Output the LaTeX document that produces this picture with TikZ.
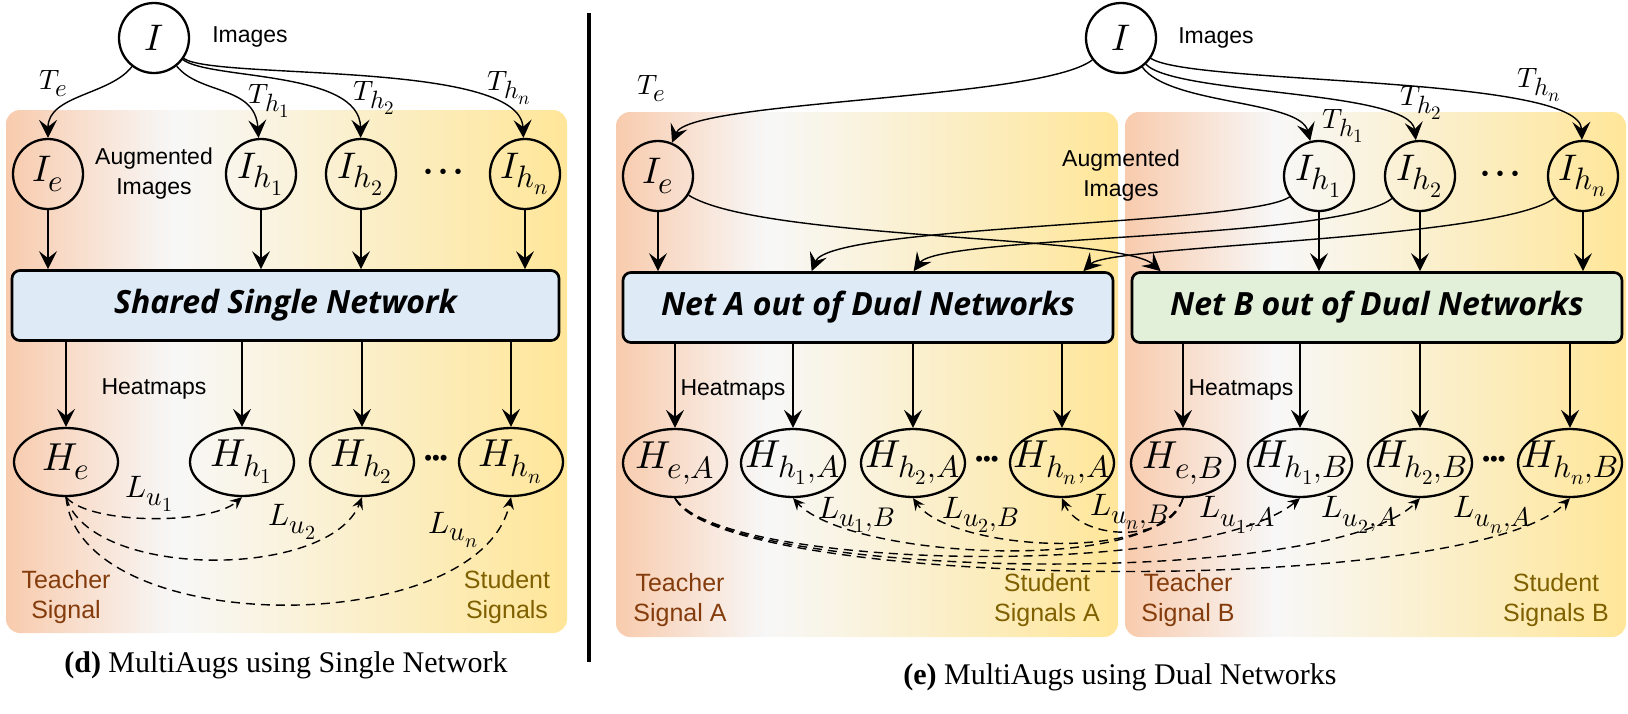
\documentclass[tikz,border=0pt]{standalone}
\usepackage{amsmath}
\usepackage{amssymb}
\usepackage{fontspec}
\usepackage{unicode-math}
\setmainfont{Liberation Serif}
\setsansfont{Liberation Sans}
\setmathfont{latinmodern-math.otf}
\newfontfamily\netfont{Open Sans}
\usetikzlibrary{arrows.meta,shapes.geometric}
\DeclareMathSizes{14}{14}{12.5}{9.5}
\DeclareMathSizes{15.5}{15.5}{13.5}{10}
\DeclareMathSizes{18.5}{18.5}{15.5}{11}
\DeclareMathSizes{19.5}{19.5}{15.5}{10.5}

\definecolor{peach}{HTML}{F8CBAD}
\definecolor{goldbg}{HTML}{FFE699}
\definecolor{netblue}{HTML}{DEEBF7}
\definecolor{netgreen}{HTML}{E2F0D9}
\definecolor{teachc}{HTML}{843C0C}
\definecolor{studc}{HTML}{7F6000}
\pgfdeclarehorizontalshading{panelshade}{100bp}{color(0bp)=(peach); color(25bp)=(peach);
  color(40bp)=(white!97!black); color(75bp)=(goldbg); color(100bp)=(goldbg)}

\begin{document}
\begin{tikzpicture}[x=0.5pt,y=-0.5pt,>={Stealth[length=9pt,width=9pt,inset=3.5pt]},
                    line width=0.7pt,font=\sffamily\fontsize{11.5}{15}\selectfont]
  \tikzstyle{panel}=[rounded corners=7pt,shading=panelshade]
  \tikzstyle{aug}=[circle,draw,line width=1.15pt,minimum size=35pt,inner sep=0pt,
                   font=\fontsize{18.5}{18.5}\selectfont]
  \tikzstyle{heat}=[ellipse,draw,line width=1.15pt,minimum width=52pt,minimum height=34pt,
                    inner xsep=-30pt,inner ysep=0pt,font=\fontsize{19.5}{19.5}\selectfont]
  \tikzstyle{net}=[draw,rounded corners=4pt,line width=1.35pt,minimum height=35pt,
                   font=\netfont\bfseries\itshape\fontsize{16}{16}\selectfont]
  \tikzstyle{loss}=[->,dash pattern=on 4.5pt off 3pt,
                    >={Stealth[length=6pt,width=5.5pt,inset=2.2pt]}]
  \tikzstyle{tlabel}=[font=\fontsize{14}{14}\selectfont]
  \tikzstyle{llabel}=[font=\fontsize{15.5}{15.5}\selectfont]
  \tikzstyle{teach}=[text=teachc,align=center,font=\sffamily\fontsize{12.5}{15}\selectfont]
  \tikzstyle{stud}=[text=studc,align=center,font=\sffamily\fontsize{12.5}{15}\selectfont]
  \tikzstyle{topdots}=[font=\sffamily\fontsize{10}{10}\selectfont]
  \tikzstyle{heatdots}=[font=\sffamily\fontsize{11}{11}\selectfont]
  \tikzstyle{caption}=[font=\rmfamily\fontsize{15}{18}\selectfont]

  \useasboundingbox (0,0) rectangle (1628,713);
  \shade[panel] (6,110) rectangle (567,633);
  \shade[panel] (616,112) rectangle (1118,637);
  \shade[panel] (1125,112) rectangle (1626,637);
  \draw[line width=2.2pt] (589,13) -- (589,662);

  % (d) single network
  \node[aug] (I) at (154,38) {$I$};
  \node (imgL) at (250,37) {Images};
  \node[aug] (Ie) at (48,174) {$I_e$};
  \node[aug] (Ih1) at (261,174) {$I_{h_1}$};
  \node[aug] (Ih2) at (361,174) {$I_{h_2}$};
  \node[topdots] (dotsL) at (443,174) {\textbullet\hspace{4pt}\textbullet\hspace{4pt}\textbullet};
  \node[aug] (Ihn) at (525,174) {$I_{h_n}$};
  \node[align=center] (augL) at (154,174) {Augmented\\Images};
  \node[net,fill=netblue,minimum width=273.5pt] (Net) at (285.5,305.5) {Shared Single Network};
  \node[heat] (He) at (66,462) {$H_e$};
  \node[heat] (Hh1) at (242,462) {$H_{h_1}$};
  \node[heat] (Hh2) at (362,462) {$H_{h_2}$};
  \node[heatdots] (hdotsL) at (436,460) {\textbullet\textbullet\textbullet};
  \node[heat] (Hhn) at (511,462) {$H_{h_n}$};
  \node (hmL) at (154,389) {Heatmaps};
  \node[teach] (tchL) at (66,597) {Teacher\\Signal};
  \node[stud] (stdL) at (507,597) {Student\\Signals};
  \node[caption] (capL) at (286,665) {\textbf{(d)} MultiAugs using Single Network};

  \draw[->] (I) .. controls (110,95) and (48,95) .. (Ie);
  \draw[->] (I) .. controls (200,95) and (255,85) .. (Ih1);
  \draw[->] (I) .. controls (210,80) and (360,70) .. (Ih2);
  \draw[->] (I) .. controls (215,80) and (520,60) .. (Ihn);
  \node[tlabel] (TeL) at (54,84) {$T_e$};
  \node[tlabel] (Th1L) at (270,101) {$T_{h_1}$};
  \node[tlabel] (Th2L) at (375,98) {$T_{h_2}$};
  \node[tlabel] (ThnL) at (510,88) {$T_{h_n}$};

  \path[->] (Ie) edge (Ie |- Net.north)
            (Ih1) edge (Ih1 |- Net.north)
            (Ih2) edge (Ih2 |- Net.north)
            (Ihn) edge (Ihn |- Net.north)
            (He |- Net.south) edge (He)
            (Hh1 |- Net.south) edge (Hh1)
            (Hh2 |- Net.south) edge (Hh2)
            (Hhn |- Net.south) edge (Hhn);

  \draw[loss] (He.south) .. controls (90,525) and (210,525) .. (Hh1.south);
  \draw[loss] (He.south) .. controls (90,580) and (330,580) .. (Hh2.south);
  \draw[loss] (He.south) .. controls (80,640) and (480,640) .. (Hhn.south);
  \node[llabel] (Lu1L) at (150,494) {$L_{u_1}$};
  \node[llabel] (Lu2L) at (293,522) {$L_{u_2}$};
  \node[llabel] (LunL) at (454,530) {$L_{u_n}$};

  % (e) dual networks
  \node[aug] (I2) at (1121,38) {$I$};
  \node (imgR) at (1216,38) {Images};
  \node[aug] (Ie2) at (658,176) {$I_e$};
  \node[aug] (Ih1b) at (1319,176) {$I_{h_1}$};
  \node[aug] (Ih2b) at (1420,176) {$I_{h_2}$};
  \node[topdots] (dotsR) at (1500,176) {\textbullet\hspace{4pt}\textbullet\hspace{4pt}\textbullet};
  \node[aug] (Ihnb) at (1583,176) {$I_{h_n}$};
  \node[align=center] (augR) at (1121,176) {Augmented\\Images};
  \node[net,fill=netblue,minimum width=245pt] (NetA) at (868,307.5) {Net A out of Dual Networks};
  \node[net,fill=netgreen,minimum width=245pt] (NetB) at (1377,307.5) {Net B out of Dual Networks};
  \node[heat] (HeA) at (675,463) {$H_{e,A}$};
  \node[heat] (Hh1A) at (793,463) {$H_{h_1,A}$};
  \node[heat] (Hh2A) at (913,463) {$H_{h_2,A}$};
  \node[heatdots] (hdotsA) at (987,461) {\textbullet\textbullet\textbullet};
  \node[heat] (HhnA) at (1062,463) {$H_{h_n,A}$};
  \node[heat] (HeB) at (1183,463) {$H_{e,B}$};
  \node[heat] (Hh1B) at (1300,463) {$H_{h_1,B}$};
  \node[heat] (Hh2B) at (1420,463) {$H_{h_2,B}$};
  \node[heatdots] (hdotsB) at (1494,461) {\textbullet\textbullet\textbullet};
  \node[heat] (HhnB) at (1570,463) {$H_{h_n,B}$};
  \node (hmA) at (733,390) {Heatmaps};
  \node (hmB) at (1241,390) {Heatmaps};
  \node[teach] (tchA) at (680,600) {Teacher\\Signal A};
  \node[stud] (stdA) at (1047,600) {Student\\Signals A};
  \node[teach] (tchB) at (1188,600) {Teacher\\Signal B};
  \node[stud] (stdB) at (1556,600) {Student\\Signals B};
  \node[caption] (capR) at (1120,677) {\textbf{(e)} MultiAugs using Dual Networks};

  \draw[->] (I2) .. controls (1040,100) and (690,100) .. (Ie2);
  \draw[->] (I2) .. controls (1170,105) and (1300,100) .. (Ih1b);
  \draw[->] (I2) .. controls (1175,95) and (1410,90) .. (Ih2b);
  \draw[->] (I2) .. controls (1190,85) and (1580,75) .. (Ihnb);
  \node[tlabel] (TeR) at (652,89) {$T_e$};
  \node[tlabel] (Th1R) at (1344,126) {$T_{h_1}$};
  \node[tlabel] (Th2R) at (1422,103) {$T_{h_2}$};
  \node[tlabel] (ThnR) at (1540,85) {$T_{h_n}$};

  \path[->] (Ie2) edge (Ie2 |- NetA.north)
            (Ih1b) edge (Ih1b |- NetB.north)
            (Ih2b) edge (Ih2b |- NetB.north)
            (Ihnb) edge (Ihnb |- NetB.north)
            (HeA |- NetA.south) edge (HeA)
            (Hh1A |- NetA.south) edge (Hh1A)
            (Hh2A |- NetA.south) edge (Hh2A)
            (HhnA |- NetA.south) edge (HhnA)
            (HeB |- NetB.south) edge (HeB)
            (Hh1B |- NetB.south) edge (Hh1B)
            (Hh2B |- NetB.south) edge (Hh2B)
            (HhnB |- NetB.south) edge (HhnB);
  \draw[->] (Ie2) .. controls (760,240) and (1120,235) .. ([xshift=15pt]NetB.north west);
  \draw[->] (Ih1b) .. controls (1250,225) and (830,225) .. ([xshift=95pt]NetA.north west);
  \draw[->] (Ih2b) .. controls (1340,240) and (940,235) .. ([xshift=146pt]NetA.north west);
  \draw[->] (Ihnb) .. controls (1500,240) and (1110,245) .. ([xshift=-15.5pt]NetA.north east);

  \draw[loss] (HeA.south) .. controls (720,570) and (1200,580) .. (Hh1B.south);
  \draw[loss] (HeA.south) .. controls (720,580) and (1330,590) .. (Hh2B.south);
  \draw[loss] (HeA.south) .. controls (720,590) and (1470,600) .. (HhnB.south);
  \draw[loss] (HeB.south) .. controls (1160,575) and (850,560) .. (Hh1A.south);
  \draw[loss] (HeB.south) .. controls (1160,565) and (950,550) .. (Hh2A.south);
  \draw[loss] (HeB.south) .. controls (1170,545) and (1080,540) .. (HhnA.south);
  \node[llabel] (Lu1B) at (857,515) {$L_{u_1,B}$};
  \node[llabel] (Lu2B) at (981,515) {$L_{u_2,B}$};
  \node[llabel] (LunB) at (1130,512) {$L_{u_n,B}$};
  \node[llabel] (Lu1A) at (1238,515) {$L_{u_1,A}$};
  \node[llabel] (Lu2A) at (1360,515) {$L_{u_2,A}$};
  \node[llabel] (LunA) at (1493,515) {$L_{u_n,A}$};
\end{tikzpicture}
\end{document}
